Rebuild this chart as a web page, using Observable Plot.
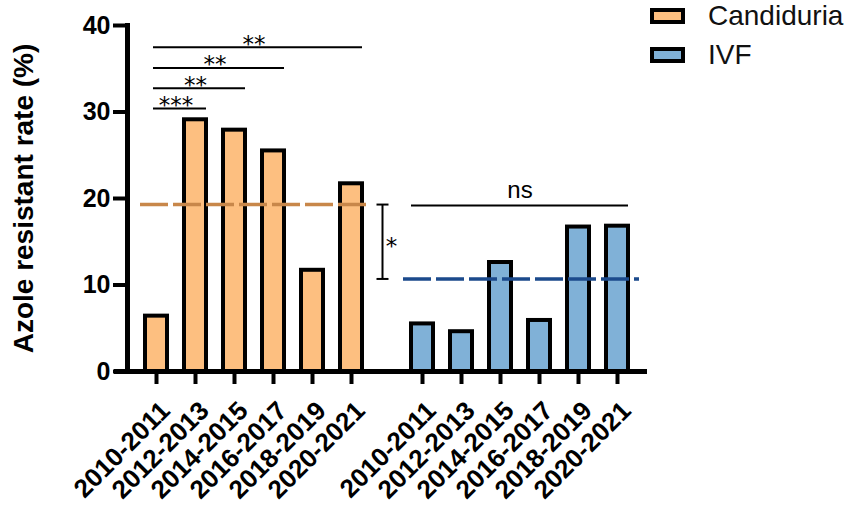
<!DOCTYPE html>
<html><head><meta charset="utf-8">
<script src="https://cdn.jsdelivr.net/npm/d3@7"></script>
<script src="https://cdn.jsdelivr.net/npm/@observablehq/plot@0.6"></script>
<style>
body{margin:0;background:#fff;}
#wrap{position:relative;width:851px;height:505px;font-family:"Liberation Sans",Arial,sans-serif;}
#legend{position:absolute;left:650px;top:0;}
.row{position:absolute;left:0;display:flex;align-items:center;height:31px;white-space:nowrap;}
.sw{box-sizing:border-box;width:35px;height:16px;border:4px solid #000;margin-right:23px;}
.lab{font-size:28px;line-height:31px;color:#111;}
</style></head><body><div id="wrap"><div id="legend"></div></div>
<script>
// ---- data ----
const groups = ["Candiduria", "IVF"];
const periods = ["2010-2011", "2012-2013", "2014-2015", "2016-2017", "2018-2019", "2020-2021"];
const candiduria = [6.4, 29.1, 27.9, 25.5, 11.7, 21.7];
const ivf = [5.5, 4.6, 12.6, 5.9, 16.7, 16.8];
const overall = [19.3, 10.7];          // dashed overall rate per group
const fills = ["#FDBF80", "#80B1D7"];
const lineColors = ["#C8874A", "#1B4A8C"];
const yTicks = [0, 10, 20, 30, 40];
const yLabel = "Azole resistant rate (%)";
// significance brackets within Candiduria (all from 2010-2011)
const sigFrom = "2010-2011";
const sigTo = ["2012-2013", "2014-2015", "2016-2017", "2020-2021"];
const sigLevel = [30.4, 32.75, 35.1, 37.5];
const sigLabel = ["***", "**", "**", "**"];
// IVF comparison
const nsLevel = 19.2;
const nsLabel = "ns";
const betweenLabel = "*";

const series = [candiduria, ivf];
const rows = groups.flatMap((g, gi) => periods.map((p, i) => ({group: g, period: p, value: series[gi][i]})));
const sigRows = sigTo.map((t, i) => ({group: groups[0], from: sigFrom, to: t, y: sigLevel[i], label: sigLabel[i]}));
const nsRow = {group: groups[1], from: periods[0], to: periods[periods.length - 1], y: nsLevel, label: nsLabel};
const lastP = periods[periods.length - 1];

const FONT = "Liberation Sans, Arial, sans-serif";

function build(sigDx, nsDx) {
  return Plot.plot({
    width: 851, height: 505,
    marginTop: 25, marginBottom: 134, marginLeft: 127, marginRight: 204.4,
    style: {fontFamily: FONT, color: "#000", background: "#fff", overflow: "visible"},
    fx: {domain: groups, paddingInner: 0.0488, paddingOuter: 0, axis: null, label: null},
    x: {domain: periods, paddingInner: 0.44, paddingOuter: 0.386, label: null},
    y: {domain: [0, 40], label: null},
    color: {domain: groups, range: fills},
    marks: [
      Plot.barY(rows, {fx: "group", x: "period", y: "value", fill: "group", stroke: "#000", strokeWidth: 4}),
      ...groups.map((g, i) => Plot.ruleY([{group: g, value: overall[i]}], {
        fx: "group", y: "value", stroke: lineColors[i], strokeWidth: 3.5, strokeDasharray: "28,5",
        insetLeft: i === 0 ? 13 : 10, insetRight: i === 0 ? 9 : 7
      })),
      // baseline
      Plot.ruleY([{group: groups[0], v: 0}], {fx: "group", y: "v", strokeWidth: 5, insetLeft: -13, insetRight: -13}),
      Plot.ruleY([{group: groups[1], v: 0}], {fx: "group", y: "v", strokeWidth: 5, insetRight: -1}),
      Plot.frame({anchor: "left", facetAnchor: "left", strokeWidth: 5}),
      Plot.axisY({ticks: yTicks, tickSize: 14, tickPadding: 3, fontSize: 25, fontWeight: "bold", strokeWidth: 4, label: null}),
      // x ticks (marks only) and x tick labels (text only)
      Plot.axisX({tickSize: 13, strokeWidth: 4, tickFormat: () => "", label: null}),
      Plot.axisX({tickSize: 0, tickPadding: 35, tickRotate: -45, dx: 9, fontSize: 26, fontWeight: "bold", label: null}),
      Plot.text([{group: groups[0], t: yLabel}], {fx: "group", text: "t", frameAnchor: "left", textAnchor: "middle", lineAnchor: "middle", rotate: -90, dx: -103, fontSize: 28, fontWeight: "bold"}),
      // significance lines
      Plot.ruleY(sigRows, {fx: "group", x1: "from", x2: "to", y: "y", strokeWidth: 2, insetLeft: 8}),
      ...sigRows.map((s, i) => Plot.text([s], {fx: "group", x: "from", y: "y", text: "label", dx: sigDx[i], dy: -3, lineAnchor: "middle", fontFamily: "DejaVu Sans", fontSize: 23})),
      // ns
      Plot.ruleY([nsRow], {fx: "group", x1: "from", x2: "to", y: "y", strokeWidth: 2}),
      Plot.text([nsRow], {fx: "group", x: "from", y: "y", text: "label", dx: nsDx, dy: -15, lineAnchor: "middle", fontSize: 24}),
      // bracket between overall rates
      Plot.ruleX([{group: groups[0], x: lastP, y1: overall[0], y2: overall[1]}], {fx: "group", x: "x", y1: "y1", y2: "y2", dx: 31, strokeWidth: 2}),
      Plot.ruleY(overall.map(v => ({group: groups[0], x: lastP, y: v})), {fx: "group", x1: "x", x2: "x", y: "y", dx: 31, insetLeft: 5.5, insetRight: 4.5, strokeWidth: 2}),
      Plot.text([{group: groups[0], x: lastP, y: (overall[0] + overall[1]) / 2, t: betweenLabel}], {fx: "group", x: "x", y: "y", text: "t", dx: 40, dy: 5, lineAnchor: "middle", fontFamily: "DejaVu Sans", fontSize: 23})
    ]
  });
}

const probe = build(sigRows.map(() => 0), 0);
const xs = probe.scale("x");
const sigDx = sigRows.map(s => (xs.apply(s.to) - xs.apply(s.from)) / 2);
const nsDx = (xs.apply(nsRow.to) - xs.apply(nsRow.from)) / 2;
const chart = build(sigDx, nsDx);
document.getElementById("wrap").prepend(chart);

// legend
const legend = document.getElementById("legend");
groups.forEach((g, i) => {
  const row = document.createElement("div");
  row.className = "row";
  row.style.top = (i * 39) + "px";
  const sw = document.createElement("div");
  sw.className = "sw";
  sw.style.background = fills[i];
  const lab = document.createElement("span");
  lab.className = "lab";
  lab.textContent = g;
  row.append(sw, lab);
  legend.append(row);
});
</script></body></html>
